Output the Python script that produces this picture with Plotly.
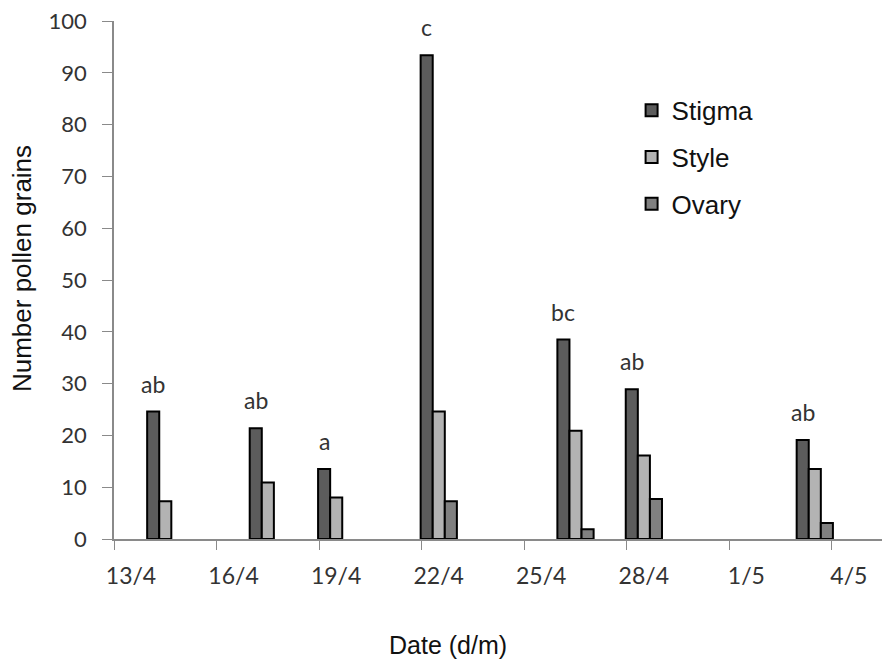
import pandas as pd
import plotly.graph_objects as go

dates = ["2009-04-14", "2009-04-17", "2009-04-19", "2009-04-22", "2009-04-26", "2009-04-28", "2009-05-03"]
stigma = [24.6, 21.4, 13.5, 93.4, 38.5, 28.9, 19.1]
style = [7.3, 10.9, 8.0, 24.6, 20.9, 16.1, 13.5]
ovary = [None, None, None, 7.3, 1.9, 7.7, 3.1]
letters = ["ab", "ab", "a", "c", "bc", "ab", "ab"]

DAY_MS = 86400000
BARGAP = 0.47
x = pd.to_datetime(dates) + pd.Timedelta(hours=12)

series = [
    ("Stigma", stigma, "#5c5c5c"),
    ("Style", style, "#b3b3b3"),
    ("Ovary", ovary, "#808080"),
]

fig = go.Figure()
for name, vals, col in series:
    fig.add_trace(go.Bar(
        x=x, y=vals, name=name, legendgroup=name,
        marker=dict(color=col, line=dict(color="black", width=2)),
    ))

# bar width in time units (slot = min spacing of 2 days)
bar_w = pd.Timedelta(days=2 * (1 - BARGAP) / 3)
for xi, v, t in zip(x, stigma, letters):
    fig.add_annotation(
        x=xi - bar_w, y=v, text=t, showarrow=False, yshift=28,
        font=dict(family="Lato, Open Sans, sans-serif", size=23, color="#333333"),
    )

fig.add_annotation(
    xref="paper", yref="paper", x=-0.1186, y=0.523, text="Number pollen grains",
    textangle=-90, showarrow=False, xanchor="center", yanchor="middle",
    font=dict(family="Liberation Sans, Arial", size=26, color="#111111"),
)
fig.add_annotation(
    xref="paper", yref="paper", x=0.43, y=-0.205, text="Date (d/m)",
    showarrow=False, xanchor="center", yanchor="middle",
    font=dict(family="Liberation Sans, Arial", size=25, color="#111111"),
)

fig.update_layout(
    width=882, height=656,
    margin=dict(l=106, r=0, t=13, b=125),
    paper_bgcolor="white", plot_bgcolor="white",
    barmode="group", bargap=BARGAP, bargroupgap=0,
    showlegend=True,
    legend=dict(
        x=0.667, y=0.873, xanchor="left", yanchor="top",
        font=dict(family="Liberation Sans, Arial", size=26, color="#111111"),
        tracegroupgap=10, bgcolor="rgba(0,0,0,0)",
    ),
    xaxis=dict(
        type="date",
        range=["2009-04-13 00:00", "2009-05-05 16:48"],
        tick0="2009-04-13", dtick=3 * DAY_MS, tickformat="%-d/%-m",
        ticks="outside", ticklen=9, tickcolor="#8a8a8a",
        showline=True, linecolor="#8a8a8a", linewidth=1.5,
        showgrid=False, zeroline=False,
        ticklabelshift=17, ticklabelstandoff=7,
        tickfont=dict(family="Lato, Open Sans, sans-serif", size=23, color="#333333"),
    ),
    yaxis=dict(
        range=[0, 100], dtick=10,
        ticks="outside", ticklen=10, tickcolor="#8a8a8a",
        showline=True, linecolor="#8a8a8a", linewidth=1.5,
        showgrid=False, zeroline=False,
        ticklabelstandoff=11, ticklabeloverflow="allow",
        tickfont=dict(family="Lato, Open Sans, sans-serif", size=22, color="#333333"),
    ),
)

fig.write_html("out.html")
